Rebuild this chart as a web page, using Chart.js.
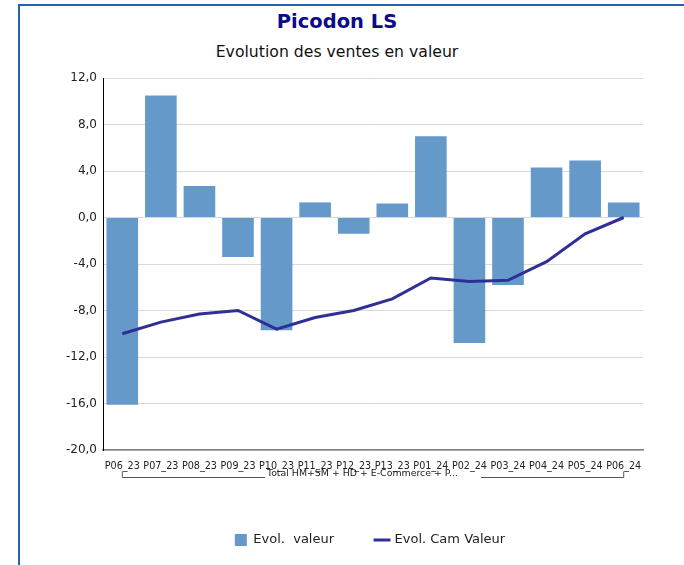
<!DOCTYPE html>
<html>
<head>
<meta charset="utf-8">
<script src="https://cdn.jsdelivr.net/npm/chart.js@4.4.1/dist/chart.umd.min.js"></script>
<style>
  body { margin: 0; background: #fff; }
  #wrap { position: relative; width: 684px; height: 565px; overflow: hidden; }
  #frame { position: absolute; left: 18px; top: 4px; right: -10px; bottom: -10px;
           border-top: 2px solid #1f63b3; border-left: 2px solid #1f63b3; }
  .ttl { position: absolute; left: 0; width: 674px; text-align: center; font-family: "DejaVu Sans", sans-serif; }
  #title { top: 10px; line-height: 24px; font-size: 19.5px; font-weight: bold; color: #0c0c8a; }
  #subtitle { top: 42px; line-height: 20px; font-size: 15.7px; color: #111; }
  canvas { position: absolute; left: 0; top: 0; }
</style>
</head>
<body>
<div id="wrap">
  <div id="frame"></div>
  <div class="ttl" id="title">Picodon LS</div>
  <div class="ttl" id="subtitle">Evolution des ventes en valeur</div>
  <canvas id="chart" width="684" height="565"></canvas>
</div>
<script>
const periods = ["P06_23", "P07_23", "P08_23", "P09_23", "P10_23", "P11_23", "P12_23",
                 "P13_23", "P01_24", "P02_24", "P03_24", "P04_24", "P05_24", "P06_24"];
const evolValeur = [-16.1, 10.5, 2.7, -3.4, -9.7, 1.3, -1.4, 1.2, 7.0, -10.8, -5.8, 4.3, 4.9, 1.3];
const evolCamValeur = [-10.0, -9.0, -8.3, -8.0, -9.6, -8.6, -8.0, -7.0, -5.2, -5.5, -5.4, -3.8, -1.4, 0.0];
const groupLabel = "Total HM+SM + HD + E-Commerce + P...";

const font = "'DejaVu Sans', sans-serif";

// bracket under the period labels with the group name
const groupBracket = {
    id: "groupBracket",
    afterDraw(chart) {
        const x = chart.scales.x;
        const ctx = chart.ctx;
        const x0 = x.getPixelForValue(0);
        const x1 = x.getPixelForValue(periods.length - 1);
        const y = Math.round(chart.chartArea.bottom + 27) + 0.5;
        const mid = (x0 + x1) / 2;
        const gap = 108;

        ctx.save();
        ctx.strokeStyle = "#555";
        ctx.lineWidth = 1;
        ctx.beginPath();
        ctx.moveTo(x0, y - 6);
        ctx.lineTo(x0, y);
        ctx.lineTo(mid - gap, y);
        ctx.moveTo(mid + gap, y);
        ctx.lineTo(x1, y);
        ctx.lineTo(x1, y - 6);
        ctx.stroke();

        ctx.font = "9.4px " + font;
        ctx.fillStyle = "#222";
        ctx.textAlign = "left";
        ctx.textBaseline = "middle";
        ctx.fillText(groupLabel, mid - gap + 2, y - 4);
        ctx.restore();
    }
};

// the legend sits a bit right of centre and low in the frame
const moveLegend = {
    id: "moveLegend",
    afterLayout(chart) {
        const lg = chart.legend;
        const dx = 38.5;
        lg.left += dx;
        lg.right += dx;
        lg.top = 491.5;
        lg.bottom = 565;
        lg.height = lg.bottom - lg.top;
    }
};

new Chart(document.getElementById("chart"), {
    data: {
        labels: periods,
        datasets: [
            {
                type: "bar",
                label: "Evol.  valeur",
                data: evolValeur,
                backgroundColor: "#6599ca",
                borderColor: "#6599ca",
                borderWidth: 0,
                barPercentage: 0.82,
                categoryPercentage: 1,
                order: 1
            },
            {
                type: "line",
                label: "Evol. Cam Valeur",
                data: evolCamValeur,
                borderColor: "#302f96",
                backgroundColor: "#302f96",
                borderWidth: 3,
                pointRadius: 0,
                tension: 0,
                order: 0
            }
        ]
    },
    options: {
        responsive: false,
        animation: false,
        layout: { padding: { left: 20, right: 41, top: 78, bottom: 0 } },
        scales: {
            x: {
                grid: { display: false },
                border: { display: true, color: "#7f7f7f", width: 1.5 },
                ticks: {
                    autoSkip: false, maxRotation: 0, padding: 3,
                    color: "#222", font: { family: font, size: 9.6 }
                },
                afterFit(scale) { scale.height = 75; }
            },
            y: {
                min: -20,
                max: 12,
                grid: { color: "#d9d9d9", lineWidth: 1, drawTicks: false },
                border: { display: true, color: "#000", width: 1 },
                ticks: {
                    stepSize: 4, padding: 6, color: "#222",
                    font: { family: font, size: 12 },
                    callback: v => v.toFixed(1).replace(".", ",")
                },
                afterFit(scale) { scale.width = 83; }
            }
        },
        plugins: {
            title: { display: false },
            tooltip: { enabled: false },
            legend: {
                position: "bottom",
                maxHeight: 40,
                labels: {
                    usePointStyle: true,
                    boxWidth: 12,
                    boxHeight: 12,
                    padding: 42,
                    color: "#222",
                    font: { family: font, size: 13 },
                    sort: (a, b) => a.datasetIndex - b.datasetIndex,
                    generateLabels(chart) {
                        const items = Chart.defaults.plugins.legend.labels.generateLabels(chart);
                        items.forEach(it => {
                            it.pointStyle = chart.data.datasets[it.datasetIndex].type === "line" ? "line" : "rect";
                        });
                        return items;
                    }
                }
            }
        }
    },
    plugins: [groupBracket, moveLegend]
});
</script>
</body>
</html>
